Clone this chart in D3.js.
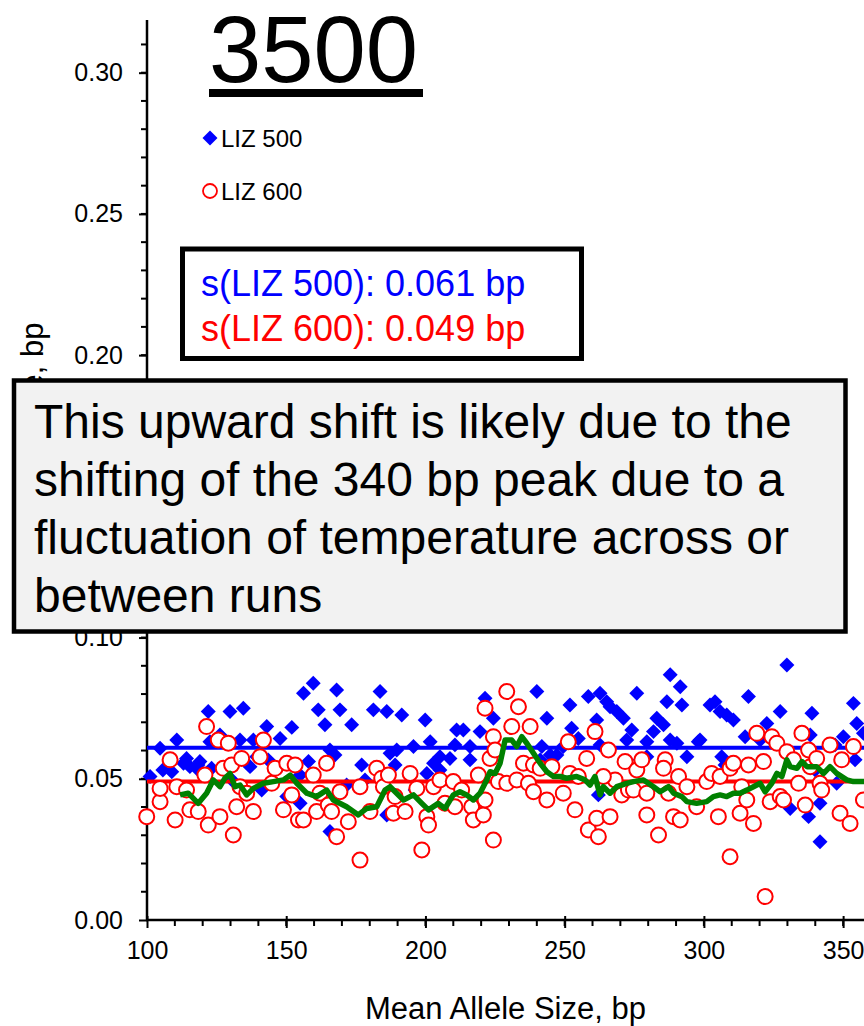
<!DOCTYPE html>
<meta charset="utf-8">
<style>

body {
  margin: 0;
  background: #fff;
}

svg {
  font-family: "Liberation Sans", Arial, sans-serif;
}

.axis line {
  stroke: #000;
  stroke-width: 2px;
}

.axis text {
  font-size: 25px;
  fill: #000;
}

</style>
<body>
<script src="https://cdn.jsdelivr.net/npm/d3@7"></script>
<script>

// mean allele size (bp) vs standard deviation (bp)
var liz500 = [
  [101.1,0.0508],[104.7,0.0608],[110.7,0.0637],[108.9,0.0525],[113.1,0.0555],[115.4,0.0543],
  [114.2,0.0572],[119.0,0.0561],[118.4,0.0531],[122.0,0.0738],[123.2,0.0537],[122.6,0.0631],
  [126.2,0.0655],[129.8,0.0738],[134.6,0.0750],[133.4,0.0637],[138.2,0.0637],[137.0,0.0543],
  [139.4,0.0578],[143.0,0.0685],[147.8,0.0643],[152.0,0.0682],[156.2,0.0803],[159.7,0.0838],
  [158.0,0.0561],[161.5,0.0744],[163.9,0.0691],[168.1,0.0814],[169.3,0.0744],[165.7,0.0602],
  [173.5,0.0691],[177.1,0.0549],[181.3,0.0744],[183.7,0.0809],[186.1,0.0738],[187.3,0.0590],
  [189.7,0.0602],[191.5,0.0726],[195.7,0.0614],[199.9,0.0708],[201.7,0.0631],[202.9,0.0555],
  [200.5,0.0519],[205.2,0.0578],[208.8,0.0572],[211.2,0.0673],[213.6,0.0673],[216.0,0.0614],
  [219.6,0.0667],[221.4,0.0785],[224.4,0.0714],[165.7,0.0313],[171.7,0.0478],[141.2,0.0460],
  [150.2,0.0437],[155.0,0.0413],[186.1,0.0372],[105.7,0.0531],[118.3,0.0549],[130.5,0.0496],
  [143.5,0.0567],[155.0,0.0513],[167.5,0.0584],[178.3,0.0496],[189.1,0.0549],[196.3,0.0460],
  [205.2,0.0531],[210.6,0.0620],[216.0,0.0567],
  [240.0,0.0809],[243.6,0.0714],[251.9,0.0761],[258.5,0.0791],[262.7,0.0803],[265.1,0.0773],
  [266.3,0.0755],[268.7,0.0738],[271.1,0.0714],[275.9,0.0803],[274.1,0.0673],[272.3,0.0637],
  [261.5,0.0708],[252.5,0.0679],[254.9,0.0643],[241.8,0.0614],[244.8,0.0584],[247.2,0.0584],
  [249.5,0.0614],[283.1,0.0714],[285.5,0.0691],[281.9,0.0667],[286.7,0.0773],[287.9,0.0868],
  [291.5,0.0826],[292.1,0.0761],[287.9,0.0637],[290.3,0.0626],[293.9,0.0578],[298.0,0.0631],
  [302.2,0.0761],[304.0,0.0773],[305.8,0.0738],[308.2,0.0726],[310.6,0.0708],[306.4,0.0578],
  [316.0,0.0791],[314.8,0.0649],[322.6,0.0696],[327.4,0.0738],[329.8,0.0903],[338.8,0.0732],
  [341.7,0.0413],[337.6,0.0366],[341.7,0.0277],[331.0,0.0395],[350.1,0.0649],[353.7,0.0767],
  [354.9,0.0696],[347.7,0.0484],[357.3,0.0661],[262.1,0.0443],[279.5,0.0631],[279.5,0.0578],
  [241.2,0.0567],[262.7,0.0620],[277.1,0.0567],[298.6,0.0637],[307.6,0.0549],[320.2,0.0637],
  [331.0,0.0584],[340.0,0.0531],[347.1,0.0620],[354.3,0.0567],[338.2,0.0655]
];

var liz600 = [
  [99.9,0.0366],[104.7,0.0419],[104.7,0.0466],[110.1,0.0354],[108.3,0.0567],[110.7,0.0472],
  [114.2,0.0460],[115.4,0.0390],[118.4,0.0384],[122.0,0.0336],[120.8,0.0513],[121.4,0.0685],
  [125.6,0.0637],[129.2,0.0626],[126.2,0.0366],[127.4,0.0537],[130.4,0.0549],[134.0,0.0572],
  [131.0,0.0301],[132.2,0.0401],[133.4,0.0472],[138.2,0.0384],[140.6,0.0578],[141.8,0.0637],
  [135.8,0.0449],[146.0,0.0537],[144.8,0.0484],[149.0,0.0390],[150.2,0.0555],[153.2,0.0549],
  [152.0,0.0443],[154.4,0.0354],[156.2,0.0354],[159.7,0.0513],[160.9,0.0384],[162.1,0.0449],
  [164.5,0.0555],[165.1,0.0407],[168.1,0.0295],[166.3,0.0384],[169.3,0.0454],[172.3,0.0348],
  [176.5,0.0472],[176.5,0.0212],[180.1,0.0384],[182.5,0.0537],[184.3,0.0502],[184.9,0.0472],
  [186.7,0.0513],[188.5,0.0378],[189.1,0.0437],[192.7,0.0384],[194.5,0.0519],[196.9,0.0466],
  [198.7,0.0248],[200.5,0.0366],[201.1,0.0336],[202.9,0.0472],[205.2,0.0496],[207.0,0.0413],
  [210.0,0.0490],[210.6,0.0401],[213.0,0.0460],[216.6,0.0401],[217.2,0.0354],[219.0,0.0513],
  [220.8,0.0372],[221.4,0.0425],[221.4,0.0750],[224.4,0.0649],[223.2,0.0572],[225.0,0.0602],
  [224.4,0.0283],[226.2,0.0490],
  [229.2,0.0809],[233.4,0.0755],[231.0,0.0685],[237.6,0.0685],[229.2,0.0484],[232.8,0.0496],
  [237.0,0.0484],[238.8,0.0454],[243.6,0.0425],[235.2,0.0555],[238.8,0.0549],[241.2,0.0537],
  [245.4,0.0543],[249.5,0.0449],[251.9,0.0519],[253.7,0.0390],[254.9,0.0508],[251.3,0.0631],
  [257.9,0.0572],[260.9,0.0667],[258.5,0.0319],[261.5,0.0360],[262.1,0.0295],[266.3,0.0366],
  [265.7,0.0602],[268.1,0.0496],[263.9,0.0508],[270.5,0.0443],[271.7,0.0561],[272.9,0.0460],
  [275.9,0.0531],[274.7,0.0460],[277.7,0.0567],[279.5,0.0449],[279.5,0.0372],[283.7,0.0301],
  [286.1,0.0567],[285.5,0.0537],[287.3,0.0449],[289.1,0.0366],[291.5,0.0354],[290.9,0.0508],
  [293.9,0.0472],[297.4,0.0401],[301.0,0.0490],[302.8,0.0519],[305.2,0.0366],[305.8,0.0508],
  [309.4,0.0537],[310.6,0.0555],[309.4,0.0224],[313.0,0.0378],[313.6,0.0472],[315.4,0.0425],
  [316.0,0.0549],[317.8,0.0342],[319.0,0.0661],[321.4,0.0561],[322.0,0.0083],[323.8,0.0419],
  [324.4,0.0649],[326.2,0.0626],[327.4,0.0437],[328.6,0.0425],[329.8,0.0596],[332.2,0.0567],
  [334.0,0.0484],[335.2,0.0661],[336.4,0.0407],[337.6,0.0602],[338.2,0.0543],[340.5,0.0572],
  [341.7,0.0484],[342.3,0.0460],[345.3,0.0620],[348.9,0.0378],[349.5,0.0567],[352.5,0.0342],
  [353.7,0.0614],[357.3,0.0425]
];

// moving average of LIZ 600
var movingAvg = [
  [111.9,0.0443],[114.8,0.0449],[118.4,0.0413],[121.4,0.0449],[123.8,0.0496],[126.2,0.0472],
  [128.0,0.0502],[129.8,0.0519],[131.6,0.0472],[133.4,0.0478],[135.8,0.0443],[138.2,0.0466],
  [141.8,0.0484],[145.4,0.0490],[149.0,0.0496],[151.4,0.0513],[153.8,0.0484],[157.4,0.0449],
  [160.9,0.0437],[164.5,0.0460],[166.9,0.0425],[171.7,0.0401],[175.9,0.0372],[178.9,0.0395],
  [182.5,0.0401],[185.5,0.0460],[187.3,0.0472],[192.1,0.0425],[195.7,0.0443],[198.7,0.0413],
  [201.1,0.0390],[204.6,0.0413],[207.0,0.0395],[210.0,0.0443],[212.4,0.0454],[214.8,0.0443],
  [217.2,0.0425],[219.6,0.0449],[222.0,0.0496],[223.2,0.0525],[225.0,0.0519],[226.8,0.0555],
  [228.6,0.0637],[231.0,0.0637],[232.8,0.0614],[234.6,0.0649],[236.4,0.0626],[238.8,0.0590],
  [241.2,0.0555],[243.6,0.0525],[246.0,0.0508],[248.4,0.0508],[250.7,0.0502],[254.3,0.0508],
  [257.3,0.0496],[259.1,0.0478],[260.9,0.0508],[262.7,0.0443],[263.9,0.0472],[266.3,0.0449],
  [268.7,0.0472],[272.3,0.0484],[274.7,0.0490],[278.3,0.0496],[281.9,0.0472],[284.3,0.0454],
  [287.3,0.0472],[289.1,0.0449],[292.1,0.0437],[293.9,0.0419],[297.4,0.0413],[301.0,0.0419],
  [303.4,0.0437],[305.8,0.0443],[308.2,0.0437],[310.6,0.0449],[313.0,0.0449],[315.4,0.0460],
  [317.8,0.0472],[320.2,0.0484],[322.0,0.0454],[324.4,0.0484],[326.2,0.0519],[328.0,0.0508],
  [329.8,0.0567],[331.0,0.0543],[333.4,0.0537],[335.2,0.0561],[337.0,0.0543],[340.5,0.0543],
  [343.0,0.0519],[345.3,0.0543],[347.7,0.0519],[351.3,0.0496],[353.7,0.0490],[357.5,0.0490]
];

var meanLiz500 = 0.061,
    meanLiz600 = 0.049;

var xTicks = [100, 150, 200, 250, 300, 350],
    yTicks = [0, 0.05, 0.10, 0.15, 0.20, 0.25, 0.30];

var statLines = ["s(LIZ 500): 0.061 bp", "s(LIZ 600): 0.049 bp"];
var noteLines = [
  "This upward shift is likely due to the",
  "shifting of the 340 bp peak due to a",
  "fluctuation of temperature across or",
  "between runs"
];

var w = 864,
    h = 1026;

var x = d3.scaleLinear().domain([100, 357.5]).range([147, 864]),
    y = d3.scaleLinear().domain([0, 0.30]).range([920, 72.7]);

var svg = d3.select("body").append("svg")
    .attr("width", w)
    .attr("height", h);

// minor ticks
svg.append("g").attr("class", "axis")
  .selectAll("line")
    .data(d3.range(1, 32).map(function(i) { return i / 100; }))
  .enter().append("line")
    .attr("x1", 141).attr("x2", 147)
    .attr("y1", function(d) { return y(d); })
    .attr("y2", function(d) { return y(d); });

svg.append("g").attr("class", "axis")
  .selectAll("line")
    .data(d3.range(11, 36).map(function(i) { return i * 10; }))
  .enter().append("line")
    .attr("y1", 920).attr("y2", 926)
    .attr("x1", function(d) { return x(d); })
    .attr("x2", function(d) { return x(d); });

var yAxis = svg.append("g")
    .attr("class", "axis")
    .attr("transform", "translate(147,0)")
    .call(d3.axisLeft(y).tickValues(yTicks).tickSize(8).tickPadding(16).tickFormat(d3.format(".2f")));
yAxis.select(".domain").remove();

var xAxis = svg.append("g")
    .attr("class", "axis")
    .attr("transform", "translate(0,920)")
    .call(d3.axisBottom(x).tickValues(xTicks).tickSize(8).tickPadding(13).tickFormat(d3.format("d")));
xAxis.select(".domain").remove();
xAxis.selectAll(".tick line").attr("y1", -4);

svg.append("line")
    .attr("x1", 147).attr("x2", 147)
    .attr("y1", 20).attr("y2", 921)
    .style("stroke", "#000").style("stroke-width", 2.5);

svg.append("line")
    .attr("x1", 146).attr("x2", 864)
    .attr("y1", 920).attr("y2", 920)
    .style("stroke", "#000").style("stroke-width", 2.5);

svg.append("text")
    .attr("x", (147 + 864) / 2)
    .attr("y", 1019)
    .attr("text-anchor", "middle")
    .style("font-size", "31px")
    .text("Mean Allele Size, bp");

svg.append("text")
    .attr("transform", "translate(43,463)rotate(-90)")
    .attr("text-anchor", "middle")
    .style("font-size", "31px")
    .text("SD of Allele Size, bp");

var diamond = d3.symbol().type(d3.symbolSquare).size(112);

svg.append("g").selectAll("path")
    .data(liz500)
  .enter().append("path")
    .attr("d", diamond)
    .attr("transform", function(d) { return "translate(" + x(d[0]) + "," + y(d[1]) + ")rotate(45)"; })
    .style("fill", "#0000ff");

svg.append("line")
    .attr("x1", x(100)).attr("x2", 864)
    .attr("y1", y(meanLiz500)).attr("y2", y(meanLiz500))
    .style("stroke", "#0000ff").style("stroke-width", 4);

svg.append("line")
    .attr("x1", x(100)).attr("x2", 864)
    .attr("y1", y(meanLiz600)).attr("y2", y(meanLiz600))
    .style("stroke", "#ff0000").style("stroke-width", 4);

svg.append("g").selectAll("circle")
    .data(liz600)
  .enter().append("circle")
    .attr("cx", function(d) { return x(d[0]); })
    .attr("cy", function(d) { return y(d[1]); })
    .attr("r", 7.5)
    .style("fill", "#fff")
    .style("stroke", "#ff0000")
    .style("stroke-width", 2);

svg.append("path")
    .datum(movingAvg)
    .attr("d", d3.line().x(function(d) { return x(d[0]); }).y(function(d) { return y(d[1]); }))
    .style("fill", "none")
    .style("stroke", "#008000")
    .style("stroke-width", 5.5)
    .style("stroke-linejoin", "round");

// title
svg.append("text")
    .attr("x", 209)
    .attr("y", 82)
    .style("font-size", "94px")
    .text("3500");

svg.append("rect")
    .attr("x", 209).attr("y", 89)
    .attr("width", 214).attr("height", 8)
    .style("fill", "#000");

// legend
svg.append("path")
    .attr("d", diamond)
    .attr("transform", "translate(210,138)rotate(45)")
    .style("fill", "#0000ff");

svg.append("circle")
    .attr("cx", 210).attr("cy", 191).attr("r", 7)
    .style("fill", "#fff").style("stroke", "#ff0000").style("stroke-width", 1.8);

svg.append("text").attr("x", 221).attr("y", 146.5).style("font-size", "24px").text("LIZ 500");
svg.append("text").attr("x", 221).attr("y", 199.5).style("font-size", "24px").text("LIZ 600");

// stats box
svg.append("rect")
    .attr("x", 182.5).attr("y", 249)
    .attr("width", 399).attr("height", 109.5)
    .style("fill", "#fff").style("stroke", "#000").style("stroke-width", 5);

svg.selectAll(".stat")
    .data(statLines)
  .enter().append("text")
    .attr("class", "stat")
    .attr("x", 201)
    .attr("y", function(d, i) { return 296 + i * 45; })
    .style("font-size", "36px")
    .style("fill", function(d, i) { return i ? "#ff0000" : "#0000ff"; })
    .text(function(d) { return d; });

// annotation
svg.append("rect")
    .attr("x", 14).attr("y", 380.5)
    .attr("width", 831.5).attr("height", 251)
    .style("fill", "#f2f2f2").style("stroke", "#000").style("stroke-width", 4.5);

svg.selectAll(".note")
    .data(noteLines)
  .enter().append("text")
    .attr("class", "note")
    .attr("x", 34)
    .attr("y", function(d, i) { return 438 + i * 58; })
    .style("font-size", "48px")
    .text(function(d) { return d; });

</script>
</body>
